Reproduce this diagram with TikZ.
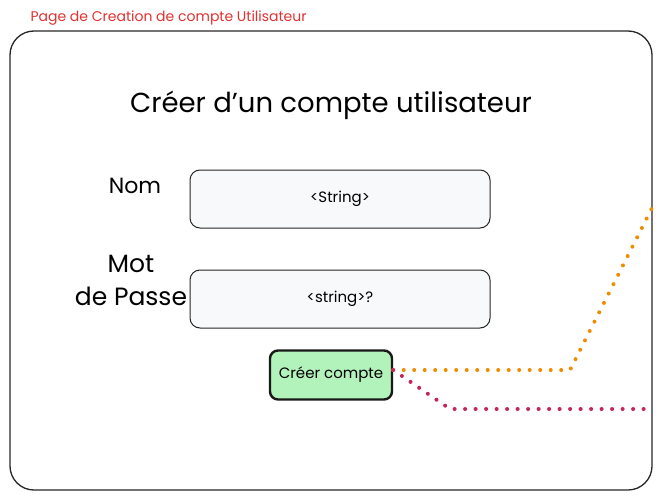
\documentclass[tikz,border=0pt]{standalone}
\usepackage{fontspec}
\setmainfont{Poppins}
\definecolor{titlered}{HTML}{E03131}
\definecolor{boxfill}{HTML}{F8F9FA}
\definecolor{btnfill}{HTML}{B2F2BB}
\definecolor{orangeline}{HTML}{F08C00}
\definecolor{pinkline}{HTML}{C2255C}
\tikzset{
  frame/.style={draw=black!85, line width=1.3pt, rounded corners=24pt},
  field/.style={draw=black!85, fill=boxfill, line width=1pt, rounded corners=10pt, minimum width=300pt, minimum height=58pt, font=\fontsize{15}{17}\selectfont},
  btn/.style={draw=black!90, fill=btnfill, line width=2.4pt, rounded corners=8pt, minimum width=122pt, minimum height=49pt, font=\fontsize{15}{17}\selectfont},
  lbl/.style={font=\fontsize{22}{33}\selectfont, align=center},
  dotline/.style={line width=4pt, line cap=round, dash pattern=on 0pt off 10.5pt},
}
\begin{document}
\begin{tikzpicture}[x=1pt,y=-1pt]
\useasboundingbox (0,0) rectangle (660,500);
\node[anchor=west, text=titlered, font=\fontsize{14}{16}\selectfont] (title) at (27,18) {Page de Creation de compte Utilisateur};
\draw[frame] (10,31) rectangle (652,490);
\node[font=\fontsize{27.5}{30}\selectfont] (heading) at (331,105) {Créer d'un compte utilisateur};
\node[lbl] (nom) at (135,186) {Nom};
\node[lbl, font=\fontsize{25}{33}\selectfont] (mdp) at (131,280) {Mot\\de Passe};
\node[field] (f1) at (340,199) {<String>};
\node[field] (f2) at (340,299) {<string>?};
\node[btn] (b) at (331,375) {Créer compte};
\coordinate (o1) at (570,370);
\coordinate (o2) at (652,208);
\coordinate (p1) at (450,409);
\coordinate (p2) at (652,409);
\draw[dotline, draw=orangeline] (b.east |- 0,370) -- (o1) -- (o2);
\draw[dotline, draw=pinkline] (b.east |- 0,370) -- (p1) -- (p2);
\end{tikzpicture}
\end{document}
